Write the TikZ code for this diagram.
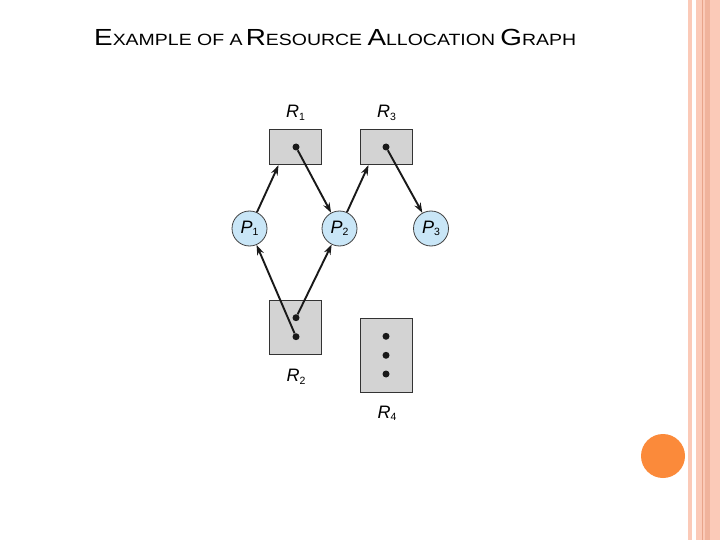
\documentclass[tikz,border=0pt]{standalone}
\usepackage{fontspec}
\setmainfont{Liberation Sans}
\usetikzlibrary{arrows.meta}
\definecolor{boxgray}{HTML}{D3D3D3}
\definecolor{procblue}{HTML}{C9E6F7}
\definecolor{titlegray}{HTML}{58595B}
\definecolor{stripe}{HTML}{FBCAB8}
\definecolor{stripedark}{HTML}{E8A48A}
\definecolor{dotorange}{HTML}{FB8A3A}
\newcommand\vlab[2]{\textit{#1}\raisebox{-2.5pt}{\fontsize{10.5}{12}\selectfont #2}}
\newcommand\bigsc{\fontsize{23.3}{26}\selectfont}
\newcommand\smallsc{\fontsize{16.3}{19}\selectfont}
\newsavebox\titlebox
\begin{document}
\sbox\titlebox{\bigsc E\smallsc XAMPLE OF A\,\bigsc R\smallsc ESOURCE \bigsc A\smallsc LLOCATION \bigsc G\smallsc RAPH}%
\pgfmathsetmacro\titlesx{482/(\the\wd\titlebox)}%
\begin{tikzpicture}[x=1pt,y=-1pt,
 res/.style={draw=black!80, line width=0.9pt, fill=boxgray, minimum width=52pt, inner sep=0},
 proc/.style={circle, draw=black!75, line width=0.8pt, fill=procblue, minimum size=35pt, inner sep=0, font=\fontsize{18}{20}\selectfont},
 tok/.style={circle, fill=black!90, minimum size=7pt, inner sep=0},
 lbl/.style={anchor=base, inner sep=0, font=\fontsize{18}{20}\selectfont},
 edge/.style={draw=black!90, line width=1.9pt, -{Stealth[length=10pt,width=7pt]}}]
\useasboundingbox (0,0) rectangle (720,540);
\fill[white] (0,0) rectangle (720,540);
% right decoration
\fill[stripe] (688.3,0) rectangle (691.8,540);
\fill[stripe] (696,0) rectangle (720,540);
\fill[stripedark!60!stripe] (705,0) rectangle (709.5,540);
\fill[stripedark] (701.7,0) rectangle (702.8,540);
\fill[dotorange] (663,456) circle (22);
% title
\node[anchor=base west, inner sep=0, text=titlegray] (title) at (94,45.7)
 {\scalebox{\titlesx}[1]{\usebox\titlebox}};
% resources
\node[res, minimum height=35.4pt] (R1) at (295.5,147) {};
\node[res, minimum height=35.4pt] (R3) at (386,147) {};
\node[res, minimum height=54.3pt] (R2) at (295.5,327.2) {};
\node[res, minimum height=73.6pt] (R4) at (386,355.5) {};
\node[tok] (d1) at (296,147) {};
\node[tok] (d3) at (386,147) {};
\node[tok] (d2a) at (296,317.7) {};
\node[tok] (d2b) at (296,336.7) {};
\node[tok] (d4a) at (386,336.3) {};
\node[tok] (d4b) at (386,355.3) {};
\node[tok] (d4c) at (386,374) {};
\node[lbl] (l1) at (295.5,118) {\vlab{R}{1}};
\node[lbl] (l3) at (386.5,118) {\vlab{R}{3}};
\node[lbl] (l2) at (296,381.5) {\vlab{R}{2}};
\node[lbl] (l4) at (387,418) {\vlab{R}{4}};
% processes
\node[proc] (P1) at (249.5,228.5) {\vlab{P}{1}};
\node[proc] (P2) at (339.5,228.5) {\vlab{P}{2}};
\node[proc] (P3) at (431,228.5) {\vlab{P}{3}};
% edges
\draw[edge] (P1) -- ([xshift=-17pt]R1.south);
\draw[edge] (d1) -- (P2);
\draw[edge] (P2) -- ([xshift=-17.5pt]R3.south);
\draw[edge] (d3) -- (P3);
\draw[edge] (d2b) -- (P1);
\draw[edge] (d2a) -- (P2);
\end{tikzpicture}
\end{document}
